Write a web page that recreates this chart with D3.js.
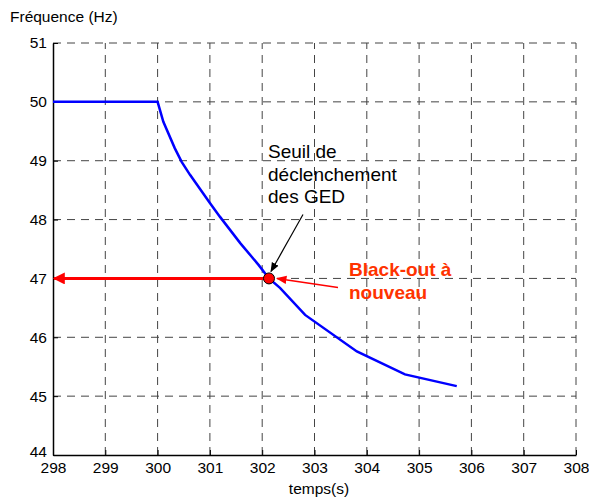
<!DOCTYPE html>
<html>
<head>
<meta charset="utf-8">
<script src="https://cdn.jsdelivr.net/npm/d3@7"></script>
<style>
  body { margin: 0; background: #fff; }
  text { font-family: "Liberation Sans", Arial, sans-serif; }
</style>
</head>
<body>
<div id="chart"></div>
<script>
var width = 589, height = 497,
    margin = {top: 43, right: 13, bottom: 42, left: 53};

// data
var temps = [298, 300, 300.11, 300.33, 300.46, 300.62, 301.0, 301.19, 301.58, 301.93, 302.13, 302.34, 302.82, 303.81, 304.73, 305.72];
var freq  = [50, 50, 49.66, 49.21, 48.98, 48.76, 48.28, 48.05, 47.6, 47.23, 47.0, 46.84, 46.38, 45.76, 45.37, 45.17];
var xTicks = [298, 299, 300, 301, 302, 303, 304, 305, 306, 307, 308];
var yTicks = [44, 45, 46, 47, 48, 49, 50, 51];
var seuil = {t: 302.13, f: 47};

var svg = d3.select("#chart")
  .append("svg")
    .attr("width", width)
    .attr("height", height);

var x = d3.scaleLinear().domain([298, 308]).range([margin.left, width - margin.right]);
var y = d3.scaleLinear().domain([44, 51]).range([height - margin.bottom, margin.top]);

var defs = svg.append("defs");
defs.append("marker")
    .attr("id", "redhead")
    .attr("viewBox", "0 0 10 10")
    .attr("refX", 9).attr("refY", 5)
    .attr("markerWidth", 4).attr("markerHeight", 4)
    .attr("orient", "auto")
  .append("path").attr("d", "M0,0L10,5L0,10z").attr("fill", "#ff0000");
defs.append("marker")
    .attr("id", "thinred")
    .attr("viewBox", "0 0 10 10")
    .attr("refX", 9).attr("refY", 5)
    .attr("markerWidth", 7).attr("markerHeight", 7)
    .attr("orient", "auto")
  .append("path").attr("d", "M0,1L10,5L0,9z").attr("fill", "#ff0000");
defs.append("marker")
    .attr("id", "blackhead")
    .attr("viewBox", "0 0 10 10")
    .attr("refX", 9).attr("refY", 5)
    .attr("markerWidth", 8).attr("markerHeight", 8)
    .attr("orient", "auto")
  .append("path").attr("d", "M0,1L10,5L0,9z").attr("fill", "#000");

// grid (dashed)
svg.append("g").selectAll("line")
    .data(xTicks.slice(1))
  .enter().append("line")
    .attr("x1", function(d){ return x(d); }).attr("x2", function(d){ return x(d); })
    .attr("y1", y(44)).attr("y2", y(51))
    .attr("stroke", "#444").attr("stroke-width", 1)
    .attr("stroke-dasharray", "8,6");
svg.append("g").selectAll("line")
    .data(yTicks.slice(1))
  .enter().append("line")
    .attr("x1", x(298)).attr("x2", x(308))
    .attr("y1", function(d){ return y(d); }).attr("y2", function(d){ return y(d); })
    .attr("stroke", "#444").attr("stroke-width", 1)
    .attr("stroke-dasharray", "8,6");

// axes
var xAxis = svg.append("g")
    .attr("transform", "translate(0," + y(44) + ")")
    .call(d3.axisBottom(x).tickValues(xTicks).tickFormat(d3.format("d"))
      .tickSizeInner(-5).tickSizeOuter(0).tickPadding(11));
var yAxis = svg.append("g")
    .attr("transform", "translate(" + x(298) + ",0)")
    .call(d3.axisLeft(y).tickValues(yTicks).tickFormat(d3.format("d"))
      .tickSizeInner(-5).tickSizeOuter(0).tickPadding(6));
[xAxis, yAxis].forEach(function(a) {
  a.select(".domain").attr("stroke", "#000").attr("stroke-width", 1.5);
  a.selectAll(".tick line").attr("stroke", "#000");
  a.selectAll("text").attr("font-size", 15.5).attr("fill", "#000")
    .style("font-family", "'Liberation Sans', Arial, sans-serif");
});
xAxis.selectAll("text").attr("dy", "0.45em");
// lowest y label sits just above the 298 label, as in the original
yAxis.selectAll(".tick text").filter(function(d){ return d === 44; }).attr("dy", "0.1em");

// frequency curve
var line = d3.line()
    .x(function(d, i){ return x(temps[i]); })
    .y(function(d){ return y(d); });
svg.append("path")
    .datum(freq)
    .attr("d", line)
    .attr("fill", "none")
    .attr("stroke", "#0000ff")
    .attr("stroke-width", 2.5);

// red horizontal arrow at 47 Hz
svg.append("line")
    .attr("x1", x(seuil.t)).attr("x2", x(298) + 1)
    .attr("y1", y(seuil.f)).attr("y2", y(seuil.f))
    .attr("stroke", "#ff0000").attr("stroke-width", 3)
    .attr("marker-end", "url(#redhead)");

// black annotation arrow
svg.append("line")
    .attr("x1", x(seuil.t) + 34).attr("y1", y(seuil.f) - 64)
    .attr("x2", x(seuil.t) + 2).attr("y2", y(seuil.f) - 7)
    .attr("stroke", "#000").attr("stroke-width", 1.2)
    .attr("marker-end", "url(#blackhead)");

// thin red arrow from label
svg.append("line")
    .attr("x1", x(seuil.t) + 69).attr("y1", y(seuil.f) + 9)
    .attr("x2", x(seuil.t) + 8).attr("y2", y(seuil.f))
    .attr("stroke", "#ff0000").attr("stroke-width", 1.5)
    .attr("marker-end", "url(#thinred)");

// point
svg.append("circle")
    .attr("cx", x(seuil.t)).attr("cy", y(seuil.f))
    .attr("r", 5.5)
    .attr("fill", "#ff0000").attr("stroke", "#000").attr("stroke-width", 1);

// labels
svg.append("text").attr("x", 10).attr("y", 22)
    .attr("font-size", 15.5).text("Fréquence (Hz)");
svg.append("text").attr("x", 319).attr("y", 494)
    .attr("text-anchor", "middle").attr("font-size", 15.5).text("temps(s)");

var seuilText = svg.append("text").attr("x", 268).attr("font-size", 19).attr("fill", "#000");
["Seuil de", "déclenchement", "des GED"].forEach(function(s, i) {
  seuilText.append("tspan").attr("x", 268).attr("y", 158 + i * 22.5).text(s);
});

var boText = svg.append("text").attr("font-size", 19).attr("font-weight", "bold").attr("fill", "#ff3300");
["Black-out à", "nouveau"].forEach(function(s, i) {
  boText.append("tspan").attr("x", 349).attr("y", 276 + i * 22.5).text(s);
});
</script>
</body>
</html>
